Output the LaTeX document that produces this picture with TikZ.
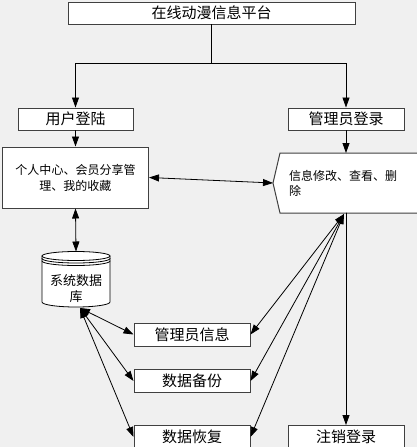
\documentclass[tikz,border=0pt]{standalone}
\usepackage{fontspec}
\setmainfont{Noto Sans CJK SC}
\usetikzlibrary{arrows.meta}
\definecolor{paper}{RGB}{240, 240, 240}
\definecolor{frame}{RGB}{64, 64, 64}
\def\dbrx{34}
\def\dbry{4.5}
\tikzset{
  plainbox/.style={draw=frame, fill=white, line width=1pt, inner sep=0pt,
    minimum height=22pt, font=\fontsize{15}{18}\selectfont},
  notebox/.style={draw=frame, fill=white, line width=1pt, inner sep=0pt,
    align=center, font=\fontsize{12}{16}\selectfont},
  link/.style={line width=0.8pt},
}

\begin{document}
\begin{tikzpicture}[x=1pt, y=-1pt, line cap=round,
  >={Triangle[length=10pt, width=7pt]}]

  \fill[paper] (0, 0) rectangle (417, 447);
  \useasboundingbox (0, 0) rectangle (417, 447);

  \node[plainbox, minimum width=287pt] (platform) at (211.5, 13) {在线动漫信息平台};
  \node[plainbox, minimum width=115pt] (userlogin) at (75.5, 119) {用户登陆};
  \node[plainbox, minimum width=116pt] (adminlogin) at (346, 119) {管理员登录};

  \node[notebox, minimum width=146pt, minimum height=61pt] (center) at (75.5, 177.5)
    {个人中心、会员分享管\\理、我的收藏};

  \node[plainbox, minimum width=116pt, minimum height=23pt] (admininfo) at (192, 334.5) {管理员信息};
  \node[plainbox, minimum width=116pt, minimum height=23pt] (backup) at (192, 381) {数据备份};
  \node[plainbox, minimum width=116pt, minimum height=23pt] (restore) at (192, 437) {数据恢复};
  \node[plainbox, minimum width=116pt, minimum height=23pt] (logout) at (346, 437) {注销登录};

  \draw[frame, fill=white, line width=1pt]
    (425, 153) -- (280, 153) -- (273, 183) -- (280, 213) -- (425, 213);
  \node[anchor=west, align=left, inner sep=0pt, font=\fontsize{12}{15}\selectfont]
    (edit) at (289, 183) {信息修改、查看、删\\除};
  \coordinate (editL) at (273, 183);
  \coordinate (editT) at (346, 153);
  \coordinate (editB) at (344, 214);
  \coordinate (editD) at (346, 213);

  \draw[fill=white, line width=0.8pt] (42, 256)
    -- (42, 302)
    arc[start angle=180, end angle=0, x radius=\dbrx, y radius=5]
    -- (110, 256)
    arc[start angle=0, end angle=-180, x radius=\dbrx, y radius=\dbry] -- cycle;
  \draw[line width=0.8pt] (42, 256)
    arc[start angle=180, end angle=0, x radius=\dbrx, y radius=\dbry];
  \draw[line width=0.8pt] (42, 258.5)
    arc[start angle=180, end angle=0, x radius=\dbrx, y radius=\dbry];
  \draw[line width=0.8pt] (42, 261)
    arc[start angle=180, end angle=0, x radius=\dbrx, y radius=\dbry];
  \node[align=center, inner sep=0pt, font=\fontsize{13}{16}\selectfont]
    (db) at (76, 289) {系统数据\\库};
  \coordinate (dbtop) at (76, 251.5);
  \coordinate (dbbot) at (80, 308);

  \draw[link, ->] (platform.south) -- ++(0, 38.5) -| (userlogin.north);
  \draw[link, ->] (platform.south) -- ++(0, 38.5) -| (adminlogin.north);
  \draw[link, ->] (userlogin.south) -- (center.north);
  \draw[link, ->] (adminlogin.south) -- (editT);
  \draw[link, <->] (center.east) -- (editL);
  \draw[link, <->] (center.south) -- (dbtop);

  \draw[link, <->] (dbbot) -- (admininfo.west);
  \draw[link, <->] (dbbot) -- (backup.west);
  \draw[link, <->] (dbbot) -- (restore.west);

  \draw[link, <->] (editB) -- (admininfo.east);
  \draw[link, <->] (editB) -- (backup.east);
  \draw[link, <->] (editB) -- (restore.east);
  \draw[link, ->] (editD) -- (logout.north);

\end{tikzpicture}
\end{document}
